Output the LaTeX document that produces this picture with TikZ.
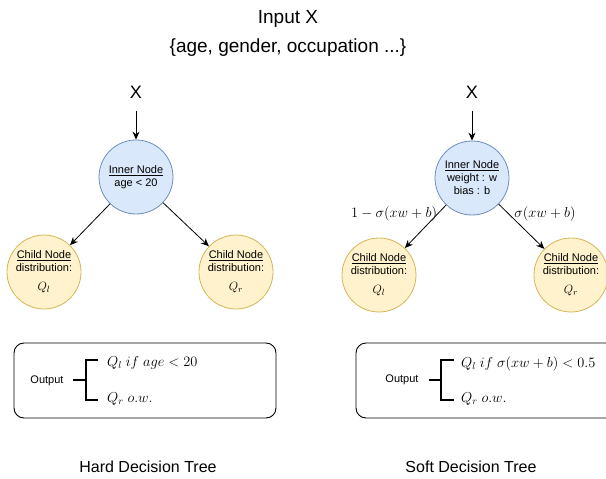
\documentclass[tikz,border=0pt]{standalone}
\usepackage{fontspec}
\setmainfont{Liberation Sans}
\usetikzlibrary{arrows.meta}
\definecolor{innerfill}{HTML}{DAE8FC}
\definecolor{innerdraw}{HTML}{6C8EBF}
\definecolor{childfill}{HTML}{FFF2CC}
\definecolor{childdraw}{HTML}{D6B656}
\begin{document}
\begin{tikzpicture}[x=1pt,y=-1pt,
  innernode/.style={circle, draw=innerdraw, fill=innerfill, line width=0.8pt, minimum size=74pt, inner sep=0pt, align=center, font=\fontsize{11}{13}\selectfont},
  childnode/.style={circle, draw=childdraw, fill=childfill, line width=0.8pt, minimum size=74pt, inner sep=0pt, align=center, font=\fontsize{11}{12.5}\selectfont},
  arr/.style={-{Stealth[length=8pt,width=7pt]}, line width=0.8pt},
  outbox/.style={draw, rounded corners=10pt, line width=0.9pt, minimum width=262pt, minimum height=75pt, inner sep=0pt},
  brk/.style={line width=1.8pt},
  smalltxt/.style={font=\fontsize{11}{13}\selectfont, inner sep=0pt},
  bigtxt/.style={font=\fontsize{16}{25}\selectfont, inner sep=0pt, align=center},
  titletxt/.style={font=\fontsize{19}{29}\selectfont, inner sep=0pt, align=center},
  xtxt/.style={font=\fontsize{18}{20}\selectfont, inner sep=0pt},
  mathtxt/.style={font=\fontsize{14}{16}\selectfont, inner sep=0pt, anchor=west},
  elabel/.style={font=\fontsize{14}{16}\selectfont, inner sep=0pt}
]
\useasboundingbox (0,0) rectangle (606,479);

% title
\node[titletxt] (title) at (288,33) {Input X\\\{age, gender, occupation ...\}};

% ---------- hard tree ----------
\node[xtxt] (xL) at (136,92) {X};
\node[innernode] (innL) at (136,177) {\underline{Inner Node}\\age < 20};
\node[childnode] (clL) at (44,272) {\underline{Child Node}\\distribution:\\[7pt]{\fontsize{13}{13}\selectfont$Q_l$}};
\node[childnode] (crL) at (236,272) {\underline{Child Node}\\distribution:\\[7pt]{\fontsize{13}{13}\selectfont$Q_r$}};
\draw[arr, shorten <=13pt] (xL.south) -- (innL.north);
\draw[arr] (innL) -- (clL);
\draw[arr] (innL) -- (crL);

\node[outbox] (boxL) at (145,380.5) {};
\node[smalltxt] (outL) at (47,381) {Output};
\draw[brk] (73,380) -- (86,380);
\draw[brk] (98,360) -- (86,360) -- (86,400) -- (98,400);
\node[mathtxt] (qlL) at (107,363) {$Q_l\ if\ age < 20$};
\node[mathtxt] (qrL) at (107,399) {$Q_r\ o.w.$};
\node[bigtxt] (hard) at (148,467) {Hard Decision Tree};

% ---------- soft tree ----------
\node[xtxt] (xR) at (472,92) {X};
\node[innernode] (innR) at (472,178) {\underline{Inner Node}\\weight : w\\bias : b};
\node[childnode] (clR) at (379,275) {\underline{Child Node}\\distribution:\\[7pt]{\fontsize{13}{13}\selectfont$Q_l$}};
\node[childnode] (crR) at (571,275) {\underline{Child Node}\\distribution:\\[7pt]{\fontsize{13}{13}\selectfont$Q_r$}};
\draw[arr, shorten <=13pt] (xR.south) -- (innR.north);
\draw[arr] (innR) -- (clR);
\draw[arr] (innR) -- (crR);
\node[elabel] (lblL) at (394,214) {$1-\sigma(xw+b)$};
\node[elabel] (lblR) at (545,214) {$\sigma(xw+b)$};

\node[outbox] (boxR) at (487,380.5) {};
\node[smalltxt] (outR) at (402,380) {Output};
\draw[brk] (429,380) -- (441,380);
\draw[brk] (454,360) -- (441,360) -- (441,400) -- (454,400);
\node[mathtxt] (qlR) at (461,364) {$Q_l\ if\ \sigma(xw+b) < 0.5$};
\node[mathtxt] (qrR) at (461,399) {$Q_r\ o.w.$};
\node[bigtxt] (soft) at (471,467) {Soft Decision Tree};
\end{tikzpicture}
\end{document}
